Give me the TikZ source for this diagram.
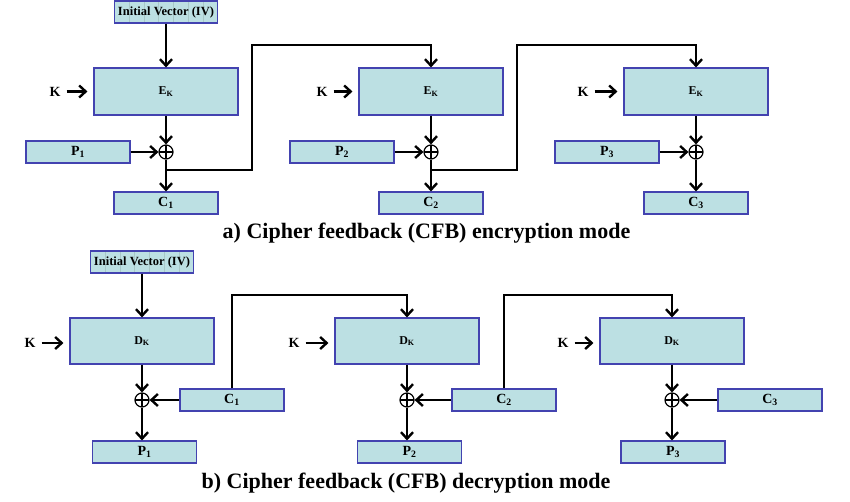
\documentclass[tikz,border=0pt]{standalone}
\usepackage{fontspec}
\setmainfont{Liberation Serif}
\usetikzlibrary{arrows.meta,calc}
\definecolor{boxfill}{HTML}{BCE0E3}
\definecolor{boxline}{HTML}{4343B0}
\definecolor{ivgrid}{HTML}{A8C8C8}
\begin{document}
\begin{tikzpicture}[x=1pt,y=-1pt,
  blk/.style={draw=boxline,fill=boxfill,line width=1.1pt,inner sep=0pt,font=\fontsize{12}{14}\selectfont\bfseries},
  bigbox/.style={blk,minimum width=144pt,minimum height=47pt},
  smallbox/.style={blk,minimum width=104pt,minimum height=22pt,font=\fontsize{14}{16}\selectfont\bfseries},
  ivbox/.style={blk,minimum width=103pt,minimum height=22pt,font=\fontsize{12.5}{14}\selectfont\bfseries,
    path picture={\foreach \i in {1,...,6}{\draw[ivgrid,line width=0.5pt]
      ($(path picture bounding box.south west)!\i/7!(path picture bounding box.south east)$) --
      ($(path picture bounding box.north west)!\i/7!(path picture bounding box.north east)$);}}},
  klabel/.style={font=\fontsize{14}{16}\selectfont\bfseries,inner sep=0pt},
  xorop/.style={circle,draw,line width=1.2pt,minimum size=14pt,inner sep=0pt,
    path picture={\draw[line width=1.2pt] (path picture bounding box.west) -- (path picture bounding box.east)
      (path picture bounding box.north) -- (path picture bounding box.south);}},
  arr/.style={line width=2.4pt,-{Straight Barb[length=6.5pt,width=12pt,line width=2.4pt]}},
  kin/.style={arr,shorten <=6pt,shorten >=6pt},
  capt/.style={font=\fontsize{22}{24}\selectfont\bfseries,inner sep=0pt}
]
\useasboundingbox (0,0) rectangle (850,502);

% ---------------- (a) encryption ----------------
\node[ivbox] (ivA) at (166,12) {Initial Vector (IV)};
\node[bigbox] (E1) at (166,91.5) {E\textsubscript{K}};
\node[bigbox] (E2) at (431,91.5) {E\textsubscript{K}};
\node[bigbox] (E3) at (696,91.5) {E\textsubscript{K}};
\node[klabel] (kA1) at (55,91.5) {K};
\node[klabel] (kA2) at (322,91.5) {K};
\node[klabel] (kA3) at (583,91.5) {K};
\node[xorop] (xA1) at (166,152) {};
\node[xorop] (xA2) at (431,152) {};
\node[xorop] (xA3) at (696,152) {};
\node[smallbox] (pA1) at (78,152) {P\textsubscript{1}};
\node[smallbox] (pA2) at (342,152) {P\textsubscript{2}};
\node[smallbox] (pA3) at (607,152) {P\textsubscript{3}};
\node[smallbox] (cA1) at (166,203) {C\textsubscript{1}};
\node[smallbox] (cA2) at (431,203) {C\textsubscript{2}};
\node[smallbox] (cA3) at (696,203) {C\textsubscript{3}};
\coordinate (bA1) at (166,170);
\coordinate (bA2) at (431,170);
\coordinate (tA1) at (252,45);
\coordinate (tA2) at (517,45);

\draw[arr] (ivA) -- (E1);
\foreach \i in {1,2,3}{
  \draw[kin] (kA\i) -- (kA\i -| E\i.west);
  \draw[arr] (E\i) -- (xA\i);
  \draw[arr] (pA\i) -- (xA\i);
  \draw[arr] (xA\i) -- (cA\i);
}
\draw[arr] (bA1) -| (tA1) -| (E2.north);
\draw[arr] (bA2) -| (tA2) -| (E3.north);

\node[capt] (capA) at (426.5,233) {a) Cipher feedback (CFB) encryption mode};

% ---------------- (b) decryption ----------------
\node[ivbox] (ivB) at (142,262) {Initial Vector (IV)};
\node[bigbox,minimum height=46pt] (D1) at (142,341) {D\textsubscript{K}};
\node[bigbox,minimum height=46pt] (D2) at (407,341) {D\textsubscript{K}};
\node[bigbox,minimum height=46pt] (D3) at (672,341) {D\textsubscript{K}};
\node[klabel] (kB1) at (30,343) {K};
\node[klabel] (kB2) at (294,343) {K};
\node[klabel] (kB3) at (563,343) {K};
\node[xorop] (xB1) at (142,400) {};
\node[xorop] (xB2) at (407,400) {};
\node[xorop] (xB3) at (672,400) {};
\node[smallbox] (cB1) at (232,400) {C\textsubscript{1}};
\node[smallbox] (cB2) at (504,400) {C\textsubscript{2}};
\node[smallbox] (cB3) at (770,400) {C\textsubscript{3}};
\node[smallbox] (pB1) at (144.5,452) {P\textsubscript{1}};
\node[smallbox] (pB2) at (409.5,452) {P\textsubscript{2}};
\node[smallbox] (pB3) at (673,452) {P\textsubscript{3}};
\coordinate (uB1) at (407,295);
\coordinate (uB2) at (672,295);

\draw[arr] (ivB) -- (D1);
\foreach \i in {1,2,3}{
  \draw[kin] (kB\i) -- (kB\i -| D\i.west);
  \draw[arr] (D\i) -- (xB\i);
  \draw[arr] (cB\i) -- (xB\i);
  \draw[arr] (xB\i) -- (xB\i |- pB\i.north);
}
\draw[arr] (cB1.north) |- (uB1) -- (D2.north);
\draw[arr] (cB2.north) |- (uB2) -- (D3.north);

\node[capt] (capB) at (406,483) {b) Cipher feedback (CFB) decryption mode};
\end{tikzpicture}
\end{document}
